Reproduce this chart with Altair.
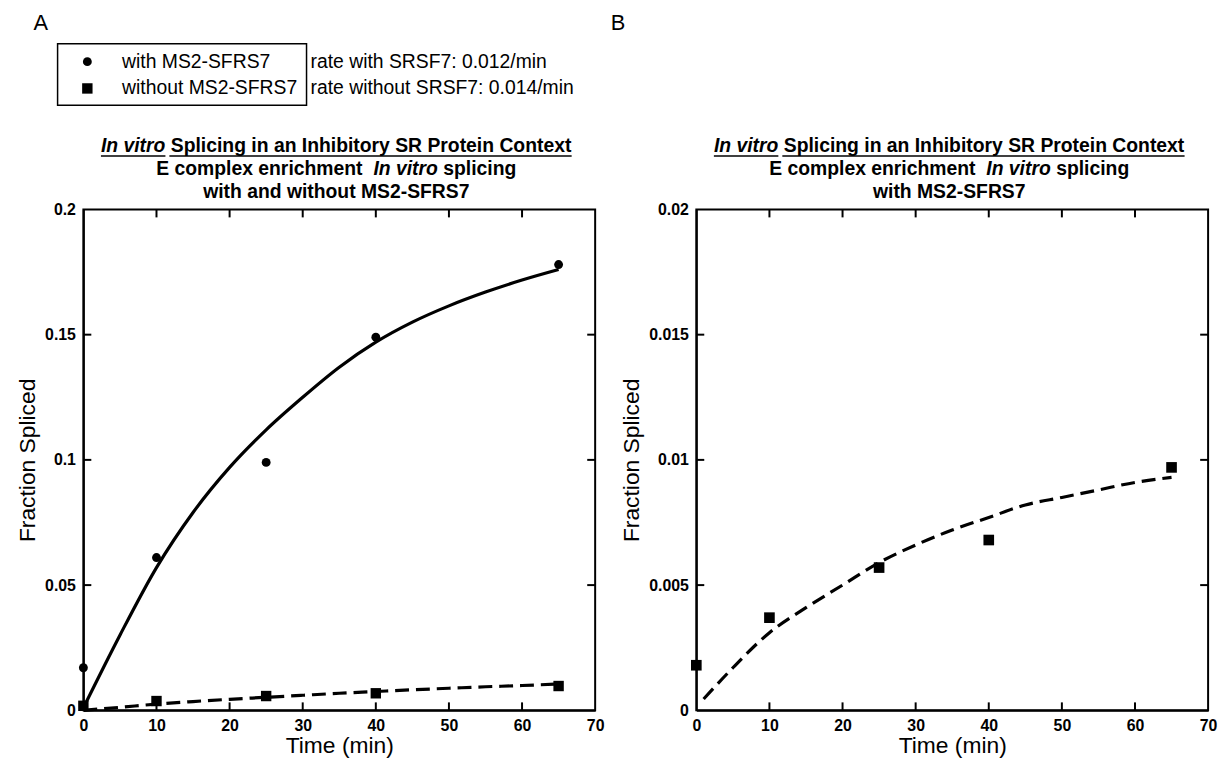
import altair as alt
import pandas as pd

# ---------------- data ----------------
time_pts = [0, 10, 25, 40, 65]
with_ms2 = [0.017, 0.061, 0.099, 0.149, 0.178]
without_ms2 = [0.0018, 0.0037, 0.0057, 0.0068, 0.0097]

fit_t_A = [0, 5, 10, 15, 20, 25, 30, 35, 40, 45, 50, 55, 60, 65]
fit_with_A = [0.001, 0.030, 0.057, 0.079, 0.097, 0.112, 0.125, 0.137, 0.147, 0.155, 0.1615, 0.167, 0.1718, 0.176]
fit_without_A = [0.0, 0.0012, 0.0025, 0.0035, 0.0044, 0.0052, 0.0060, 0.0068, 0.0075, 0.0082, 0.0088, 0.0094, 0.0099, 0.0105]

fit_t_B = [1, 5, 10, 15, 20, 25, 30, 35, 40, 45, 50, 55, 60, 65]
fit_without_B = [0.00045, 0.0017, 0.0031, 0.0041, 0.0050, 0.0059, 0.0066, 0.0072, 0.0077, 0.0082, 0.0085, 0.0088, 0.0091, 0.0093]

x_label_values = [0, 10, 20, 30, 40, 50, 60, 70]
x_inner_ticks = [10, 20, 30, 40, 50, 60]
yA_label_values = [0, 0.05, 0.1, 0.15, 0.2]
yA_inner_ticks = [0.05, 0.1, 0.15]
yB_label_values = [0, 0.005, 0.01, 0.015, 0.02]
yB_inner_ticks = [0.005, 0.01, 0.015]

title_line1 = ["In vitro", "Splicing in an Inhibitory SR Protein Context"]
title_line2 = ["E complex enrichment", "In vitro", "splicing"]
title_A_line3 = "with and without MS2-SFRS7"
title_B_line3 = "with MS2-SFRS7"
legend_labels = ["with MS2-SFRS7", "without MS2-SFRS7"]
rate_labels = ["rate with SRSF7: 0.012/min", "rate without SRSF7: 0.014/min"]

# ---------------- layout helpers ----------------
FONT = "Liberation Sans"
W, H = 516, 505
TITLE_FS = 19.5
LEG_FS = 19.5
TICK = 8

BOLD_W = {' ': 278, 'A': 722, 'B': 722, 'C': 722, 'E': 667, 'F': 611, 'I': 278, 'M': 833,
          'P': 667, 'R': 722, 'S': 667, 'a': 556, 'b': 611, 'c': 556, 'd': 611, 'e': 556,
          'g': 611, 'h': 611, 'i': 278, 'l': 278, 'm': 889, 'n': 611, 'o': 611, 'p': 611,
          'r': 389, 's': 556, 't': 333, 'u': 611, 'v': 556, 'w': 778, 'x': 556, 'y': 556,
          '2': 556, '7': 556, '-': 333}


def tw(s, fs=TITLE_FS):
    return sum(BOLD_W.get(c, 556) for c in s) * fs / 1000.0


SP = tw(" ")
one = pd.DataFrame({"k": [0]})


def txt(s, x, y, size=14, weight="normal", style="normal", align="left", angle=0):
    return alt.Chart(one).mark_text(
        text=s, fontSize=size, fontWeight=weight, fontStyle=style, align=align,
        baseline="middle", font=FONT, color="black", angle=angle
    ).encode(x=alt.value(x), y=alt.value(y))


def hrule(x1, x2, y, w=1.5):
    return alt.Chart(one).mark_rule(color="black", strokeWidth=w).encode(
        x=alt.value(x1), x2=alt.value(x2), y=alt.value(y))


def title_layers(line3):
    cx = W / 2 - 3
    y1, y2, y3 = -64, -41, -18
    layers = []
    w1i, w1r = tw(title_line1[0]), tw(title_line1[1])
    x0 = cx - (w1i + SP + w1r) / 2
    layers.append(txt(title_line1[0], x0, y1, TITLE_FS, "bold", "italic"))
    layers.append(txt(title_line1[1], x0 + w1i + SP, y1, TITLE_FS, "bold"))
    layers.append(hrule(x0, x0 + w1i, y1 + 10))
    layers.append(hrule(x0 + w1i + 4, x0 + w1i + SP + w1r, y1 + 10))
    wa, wi, wb = tw(title_line2[0]), tw(title_line2[1]), tw(title_line2[2])
    tot = wa + 2 * SP + wi + SP + wb
    x0 = cx - tot / 2
    layers.append(txt(title_line2[0], x0, y2, TITLE_FS, "bold"))
    layers.append(txt(title_line2[1], x0 + wa + 2 * SP, y2, TITLE_FS, "bold", "italic"))
    layers.append(txt(title_line2[2], x0 + wa + 3 * SP + wi, y2, TITLE_FS, "bold"))
    layers.append(txt(line3, cx, y3, TITLE_FS, "bold", align="center"))
    return layers


def panel(ymax, ylabels, yinner, lines, points, extras):
    xs = alt.Scale(domain=[0, 70], nice=False, zero=False)
    ys = alt.Scale(domain=[0, ymax], nice=False, zero=False)
    x_axis = alt.Axis(values=x_label_values, title="Time (min)", format="d")
    y_axis = alt.Axis(values=ylabels, title="Fraction Spliced", format="~g")
    X = alt.X("t:Q", scale=xs, axis=x_axis, title="Time (min)")
    Y = alt.Y("f:Q", scale=ys, axis=y_axis, title="Fraction Spliced")
    layers = []
    for (tt, ff, dash) in lines:
        df = pd.DataFrame({"t": tt, "f": ff})
        props = dict(color="black", strokeWidth=3.2, interpolate="monotone")
        if dash:
            props["strokeDash"] = [14, 7]
        layers.append(alt.Chart(df).mark_line(**props).encode(x=X, y=Y))
    for (tt, ff, shape, size) in points:
        df = pd.DataFrame({"t": tt, "f": ff})
        layers.append(alt.Chart(df).mark_point(
            shape=shape, filled=True, size=size, color="black", opacity=1).encode(x=X, y=Y))
    xt = pd.DataFrame({"t": x_inner_ticks})
    yt = pd.DataFrame({"f": yinner})
    rule = dict(color="black", strokeWidth=2)
    layers.append(alt.Chart(xt).mark_rule(**rule).encode(
        x=X, y=alt.value(H), y2=alt.value(H - TICK)))
    layers.append(alt.Chart(xt).mark_rule(**rule).encode(
        x=X, y=alt.value(0), y2=alt.value(TICK)))
    layers.append(alt.Chart(yt).mark_rule(**rule).encode(
        y=Y, x=alt.value(0), x2=alt.value(TICK)))
    layers.append(alt.Chart(yt).mark_rule(**rule).encode(
        y=Y, x=alt.value(W), x2=alt.value(W - TICK)))
    layers.extend(extras)
    return alt.layer(*layers).properties(width=W, height=H)


# legend drawn in panel A (pixel offsets relative to panel A's plot)
legend_box = alt.Chart(one).mark_rect(fillOpacity=0, stroke="black", strokeWidth=1.5).encode(
    x=alt.value(-26), x2=alt.value(225), y=alt.value(-167), y2=alt.value(-105))
leg_circle = alt.Chart(one).mark_point(shape="circle", filled=True, size=80, color="black", opacity=1).encode(
    x=alt.value(4), y=alt.value(-149))
leg_square = alt.Chart(one).mark_point(shape="square", filled=True, size=110, color="black", opacity=1).encode(
    x=alt.value(4), y=alt.value(-122))

extras_A = [legend_box, leg_circle, leg_square,
            txt(legend_labels[0], 39, -149, LEG_FS),
            txt(legend_labels[1], 39, -122, LEG_FS),
            txt(rate_labels[0], 229, -149, LEG_FS),
            txt(rate_labels[1], 229, -122, LEG_FS),
            txt("A", -43, -188, 22, align="center")] + title_layers(title_A_line3)

extras_B = [txt("B", -79, -188, 22, align="center")] + title_layers(title_B_line3)

chart_A = panel(
    0.2, yA_label_values, yA_inner_ticks,
    lines=[(fit_t_A, fit_with_A, False), (fit_t_A, fit_without_A, True)],
    points=[(time_pts, with_ms2, "circle", 80), (time_pts, without_ms2, "square", 110)],
    extras=extras_A)

chart_B = panel(
    0.02, yB_label_values, yB_inner_ticks,
    lines=[(fit_t_B, fit_without_B, True)],
    points=[(time_pts, without_ms2, "square", 115)],
    extras=extras_B)

chart = alt.hconcat(chart_A, chart_B, spacing=4).properties(
    padding={"left": 7, "top": 0, "right": 2, "bottom": 0}
).configure_view(
    stroke="black", strokeWidth=2
).configure_axis(
    labelFont=FONT, labelFontSize=16, labelFontWeight="bold", labelColor="black",
    titleFont=FONT, titleFontSize=23, titleFontWeight="normal", titleColor="black",
    domainColor="black", domainWidth=2, ticks=False, tickSize=0, grid=False,
    labelPadding=7, labelFlush=False, labelOverlap=False, labelBound=False
).configure_axisY(
    titlePadding=5, labelPadding=8
).configure_axisX(
    titlePadding=2
)

chart.save("out.html", embed_options={"renderer": "svg", "actions": False})
